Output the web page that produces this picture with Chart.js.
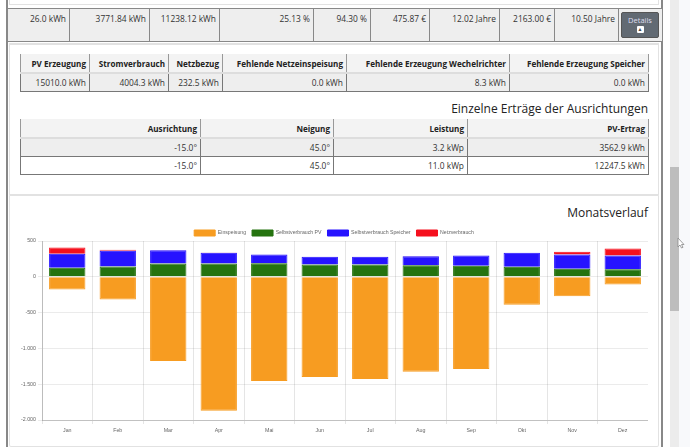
<!DOCTYPE html>
<html lang="de"><head><meta charset="utf-8"><title>Monatsverlauf</title>
<script src="https://cdn.jsdelivr.net/npm/chart.js@4/dist/chart.umd.js"></script>
<style>
html,body{margin:0;padding:0;background:#fff;overflow:hidden;width:690px;height:447px}
body{font-family:"Open Sans",sans-serif;color:#333;position:relative}
.box{position:absolute;box-sizing:border-box}
table{position:absolute;border-collapse:collapse;table-layout:fixed;font-size:8.4px;color:#333}
td,th{box-sizing:border-box;border:1px solid #777;text-align:right;padding:0 3px;white-space:nowrap;overflow:hidden}
th{font-weight:700;font-size:8.1px;color:#222;background:#f3f3f3;border-top:0;border-bottom:2px solid #ddd;border-left:1px solid #999;border-right:1px solid #999}
tr.g td{background:#eee}
h3{position:absolute;margin:0;font-weight:400;font-size:12px;color:#222;right:42px;line-height:18px;white-space:nowrap}
#sum td{vertical-align:top;padding-top:4px;background:#eee;border-color:#888;border-width:0 1px}
</style></head><body>
<div class="box" style="left:6px;top:0;width:2px;height:447px;background:#888"></div>
<div class="box" style="left:661px;top:0;width:2px;height:447px;background:#888"></div>
<div class="box" style="left:9px;top:-10px;width:650px;height:15px;border:1px solid #e2e2e2"></div>
<table id="sum" style="left:7px;top:8px;width:655px;height:33px;border-top:1px solid #888;border-bottom:1px solid #888"></table>
<div class="box" style="left:621px;top:12px;width:38px;height:26px;background:#626a73;border-radius:2px;color:#dde;font-size:7.5px;text-align:center;line-height:15px;border:1px solid #555">Details
<div style="width:7px;height:7px;background:#fff;margin:-2px auto 0;border-radius:1px;color:#444;font-size:5px;line-height:7px">▲</div></div>
<div class="box" style="left:9px;top:43px;width:650px;height:152px;border:1px solid #e2e2e2;border-top-width:2px"></div>
<div class="box" style="left:9px;top:194px;width:650px;height:253px;border:1px solid #e2e2e2;border-top-width:2px;border-radius:2px"></div>
<table id="t1" style="left:20px;top:54px;width:628px;height:37px"></table>
<h3 style="top:100px">Einzelne Erträge der Ausrichtungen</h3>
<table id="t2" style="left:20px;top:119px;width:628px;height:55px"></table>
<h3 style="top:204px">Monatsverlauf</h3>
<div class="box" style="left:20px;top:224px;width:628px;height:216px"><canvas id="c"></canvas></div>
<div class="box" style="left:670px;top:0;width:9px;height:447px;background:#ececec"></div>
<div class="box" style="left:670px;top:167px;width:9px;height:144px;background:#bdbdbd"></div>
<div class="box" style="left:679px;top:0;width:11px;height:447px;background:#f8f9fb"></div>
<svg class="box" style="left:677px;top:237px" width="8" height="12" viewBox="0 0 8 12"><path d="M1 1v9l2-2 1.500 3 1.500-.7L4.500 7.500H7z" fill="#fff" stroke="#888" stroke-width=".8"/></svg>
<script>
const months = ['Jan','Feb','Mar','Apr','Mai','Jun','Jul','Aug','Sep','Okt','Nov','Dez'];
const einspeisung = [-178,-317,-1175,-1870,-1455,-1400,-1427,-1325,-1287,-392,-271,-108];
const selbstPV = [126,144,186,186,190,172,172,163,154,140,112,106];
const selbstSpeicher = [195,219,186,150,122,108,108,125,144,195,200,192];
const netzverbrauch = [89,14,3,2,1,1,1,1,1,1,38,98];
const yMin = -2000, yMax = 500, yStep = 500;

const summaryRow = ['26.0 kWh','3771.84 kWh','11238.12 kWh','25.13 %','94.30 %','475.87 €','12.02 Jahre','2163.00 €','10.50 Jahre',''];
const summaryWidths = [62,80,70,94,57,59,70,55,64,44];
const energyHead = ['PV Erzeugung','Stromverbrauch','Netzbezug','Fehlende Netzeinspeisung','Fehlende Erzeugung Wechelrichter','Fehlende Erzeugung Speicher'];
const energyRow = ['15010.0 kWh','4004.3 kWh','232.5 kWh','0.0 kWh','8.3 kWh','0.0 kWh'];
const energyWidths = [69,79,54,124,163,139];
const orientHead = ['Ausrichtung','Neigung','Leistung','PV-Ertrag'];
const orientRows = [['-15.0°','45.0°','3.2 kWp','3562.9 kWh'],['-15.0°','45.0°','11.0 kWp','12247.5 kWh']];
const orientWidths = [180,133,134,181];

function fill(id, widths, head, rows, rowH){
  let h = '<colgroup>'+widths.map(w=>`<col style="width:${w}px">`).join('')+'</colgroup>';
  if(head) h += `<tr style="height:19px">`+head.map(t=>`<th>${t}</th>`).join('')+'</tr>';
  rows.forEach((r,i)=>{ h += `<tr class="${i%2==0?'g':''}" style="height:${rowH}px">`+r.map(t=>`<td>${t}</td>`).join('')+'</tr>'; });
  document.getElementById(id).innerHTML = h;
}
fill('sum', summaryWidths, null, [summaryRow], 33);
fill('t1', energyWidths, energyHead, [energyRow], 18);
fill('t2', orientWidths, orientHead, orientRows, 18);

Chart.defaults.font.family = '"Liberation Sans",Arial,sans-serif';
new Chart(document.getElementById('c'), {
  type:'bar',
  data:{labels:months, datasets:[
    {label:'Einspeisung', data:einspeisung, backgroundColor:'#f79c21', borderColor:'#f79c21', borderWidth:1},
    {label:'Selbstverbrauch PV', data:selbstPV, backgroundColor:'#25730f', borderColor:'#25730f', borderWidth:1},
    {label:'Selbstverbrauch Speicher', data:selbstSpeicher, backgroundColor:'#2613ff', borderColor:'#2613ff', borderWidth:1},
    {label:'Netzverbrauch', data:netzverbrauch, backgroundColor:'#f5101e', borderColor:'#f5101e', borderWidth:1}
  ]},
  plugins:[{id:'legendFit',beforeInit(chart){
    const fit = chart.legend.fit;
    chart.legend.fit = function(){ fit.call(this); this.height = 17; };
  }}],
  options:{
    responsive:true, maintainAspectRatio:false, animation:false,
    layout:{padding:0},
    plugins:{
      tooltip:{enabled:false},
      legend:{position:'top',labels:{boxWidth:21,boxHeight:6,font:{size:5.2},color:'#666',padding:6}}
    },
    scales:{
      x:{stacked:true,
         grid:{color:'rgba(0,0,0,0.1)',tickLength:4},
         border:{color:'rgba(0,0,0,0.18)'},
         ticks:{font:{size:5.3},color:'#666',padding:3,maxRotation:0},
         afterFit(s){s.height=20;}},
      y:{stacked:true,min:yMin,max:yMax,
         grid:{color:'rgba(0,0,0,0.08)',tickLength:4},
         border:{color:'rgba(0,0,0,0.18)'},
         ticks:{stepSize:yStep,font:{size:5.3},color:'#666',padding:2,
                callback:v=>v.toLocaleString('de-DE')},
         afterFit(s){s.width=22;}}
    }
  }
});
</script>
</body></html>
